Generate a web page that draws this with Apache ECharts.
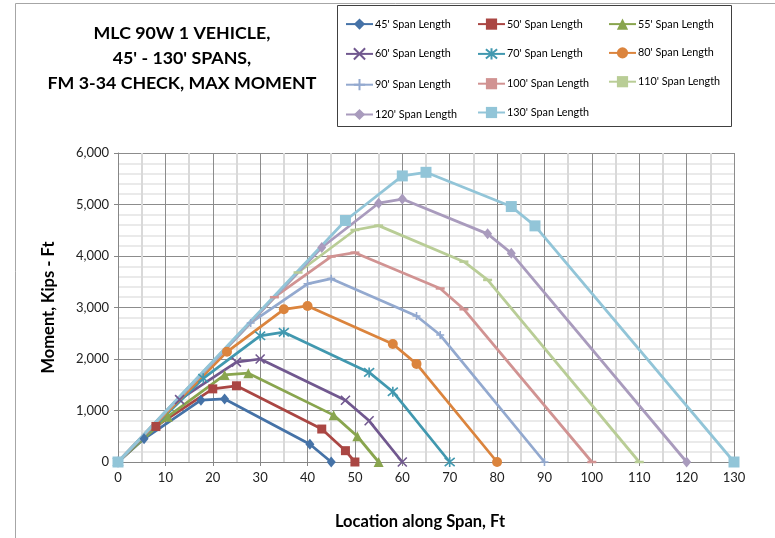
<!DOCTYPE html>
<html>
<head>
<meta charset="utf-8">
<script src="https://cdn.jsdelivr.net/npm/echarts@6/dist/echarts.min.js"></script>
<style>
html,body{margin:0;padding:0;background:#fff;}
#chart{width:775px;height:538px;}
</style>
</head>
<body>
<div id="chart"></div>
<script>
// ---- data ----
const titleLines = ["MLC 90W 1 VEHICLE,", "45' - 130' SPANS,", "FM 3-34 CHECK, MAX MOMENT"];
const xTitle = "Location along Span, Ft";
const yTitle = "Moment, Kips - Ft";

const spanNames = ["45' Span Length","50' Span Length","55' Span Length","60' Span Length","70' Span Length","80' Span Length","90' Span Length","100' Span Length","110' Span Length","120' Span Length","130' Span Length"];

const loc45  = [0, 5.5, 17.5, 22.5, 40.5, 45];
const mom45  = [0, 450, 1200, 1225, 345, 0];
const loc50  = [0, 8, 20, 25, 43, 48, 50];
const mom50  = [0, 690, 1420, 1480, 640, 220, 0];
const loc55  = [0, 10.5, 22.5, 27.5, 45.5, 50.5, 55];
const mom55  = [0, 880, 1690, 1725, 910, 500, 0];
const loc60  = [0, 13, 25, 30, 48, 53, 60];
const mom60  = [0, 1210, 1940, 2000, 1200, 800, 0];
const loc70  = [0, 18, 30, 35, 53, 58, 70];
const mom70  = [0, 1625, 2450, 2520, 1740, 1365, 0];
const loc80  = [0, 23, 35, 40, 58, 63, 80];
const mom80  = [0, 2140, 2965, 3030, 2290, 1905, 0];
const loc90  = [0, 28, 40, 45, 63, 68, 90];
const mom90  = [0, 2700, 3460, 3560, 2835, 2465, 0];
const loc100 = [0, 33, 45, 50, 68, 73, 100];
const mom100 = [0, 3200, 3990, 4065, 3370, 2965, 0];
const loc110 = [0, 38, 50, 55, 73, 78, 110];
const mom110 = [0, 3680, 4505, 4590, 3890, 3535, 0];
const loc120 = [0, 43, 55, 60, 78, 83, 120];
const mom120 = [0, 4165, 5025, 5105, 4430, 4055, 0];
const loc130 = [0, 48, 60, 65, 83, 88, 130];
const mom130 = [0, 4690, 5555, 5625, 4960, 4585, 0];

const locs = [loc45, loc50, loc55, loc60, loc70, loc80, loc90, loc100, loc110, loc120, loc130];
const moms = [mom45, mom50, mom55, mom60, mom70, mom80, mom90, mom100, mom110, mom120, mom130];

const xTicks = {min: 0, max: 130, interval: 10};
const yTicks = {min: 0, max: 6000, interval: 1000};

// ---- styles ----
const colors = ['#4572A7','#AA4643','#89A54E','#71588F','#4198AF','#DB843D','#93A9CF','#D19392','#B9CD96','#A99BBD','#92C5D8'];
const P_X = 'path://M0,0 L10,10 M10,0 L0,10';
const P_STAR = 'path://M0,0 L10,10 M10,0 L0,10 M5,-1 L5,11';
const P_PLUS = 'path://M0,5 L10,5 M5,0 L5,10';
const symbols = [
  {s:'diamond', size:[9,11], stroke:false},
  {s:'rect', size:9, stroke:false},
  {s:'triangle', size:10, stroke:false},
  {s:P_X, size:9, stroke:true},
  {s:P_STAR, size:10, stroke:true},
  {s:'circle', size:10, stroke:false},
  {s:P_PLUS, size:8, stroke:true},
  {s:'rect', size:[9,2.5], stroke:false},
  {s:'rect', size:[9,2.5], stroke:false},
  {s:'diamond', size:[9,11], stroke:false},
  {s:'rect', size:11, stroke:false}
];

const FONT = 'Lato, "Open Sans", sans-serif';

const series = spanNames.map((name, i) => ({
  name: name,
  type: 'line',
  data: locs[i].map((x, k) => [x, moms[i][k]]),
  color: colors[i],
  symbol: symbols[i].s,
  symbolSize: symbols[i].size,
  showAllSymbol: true,
  lineStyle: {width: 2.75, color: colors[i]},
  itemStyle: symbols[i].stroke
    ? {color: colors[i], borderColor: colors[i], borderWidth: 1.6}
    : {color: colors[i], borderWidth: 0},
  emphasis: {disabled: true},
  animation: false,
  clip: false,
  z: 2
}));

function legendCol(left, names) {
  return {
    orient: 'vertical',
    left: left,
    top: 13.5,
    itemWidth: 27,
    itemHeight: 14,
    itemGap: 17.6,
    data: names,
    textStyle: {fontFamily: FONT, fontSize: 10.8, color: '#000', padding: [0,0,0,-3]},
    selectedMode: false
  };
}

const chart = echarts.init(document.getElementById('chart'), null, {renderer: 'canvas'});
chart.setOption({
  animation: false,
  backgroundColor: '#fff',
  grid: {left: 118, right: 41, top: 153, bottom: 76, containLabel: false},
  legend: [
    legendCol(340, [spanNames[0], spanNames[3], spanNames[6], spanNames[9]]),
    legendCol(472, [spanNames[1], spanNames[4], spanNames[7], spanNames[10]]),
    legendCol(603, [spanNames[2], spanNames[5], spanNames[8]])
  ],
  xAxis: {
    type: 'value',
    min: xTicks.min, max: xTicks.max, interval: xTicks.interval,
    name: xTitle,
    nameLocation: 'middle',
    nameGap: 51,
    nameTextStyle: {fontFamily: FONT, fontSize: 16.5, fontWeight: 'bold', color: '#000', padding: [0, 12, 0, 0]},
    axisLine: {show: true, lineStyle: {color: '#868686', width: 1}},
    axisTick: {show: true, length: 4, lineStyle: {color: '#868686'}},
    axisLabel: {fontFamily: FONT, fontSize: 13, color: '#222', margin: 9},
    splitLine: {show: true, lineStyle: {color: '#8c8c8c', width: 1}},
    minorTick: {show: false, splitNumber: 2},
    minorSplitLine: {show: true, lineStyle: {color: '#d9d9d9', width: 2}}
  },
  yAxis: {
    type: 'value',
    min: yTicks.min, max: yTicks.max, interval: yTicks.interval,
    name: yTitle,
    nameLocation: 'middle',
    nameGap: 61,
    nameTextStyle: {fontFamily: FONT, fontSize: 16.5, fontWeight: 'bold', color: '#000'},
    axisLine: {show: true, lineStyle: {color: '#868686', width: 1}},
    axisTick: {show: true, length: 4, lineStyle: {color: '#868686'}},
    axisLabel: {fontFamily: FONT, fontSize: 13, color: '#222', margin: 9,
      formatter: v => v.toLocaleString('en-US')},
    splitLine: {show: true, lineStyle: {color: '#8c8c8c', width: 1}},
    minorTick: {show: false, splitNumber: 5},
    minorSplitLine: {show: true, lineStyle: {color: '#e3e3e3', width: 1.5}}
  },
  graphic: [
    {type: 'rect', shape: {x: 15.5, y: 3.5, width: 800, height: 600}, style: {fill: 'none', stroke: '#a6a6a6', lineWidth: 1}, z: -10, silent: true},
    {type: 'rect', shape: {x: 337.5, y: 5.5, width: 394, height: 121}, style: {fill: '#fff', stroke: '#404040', lineWidth: 1}, z: -5, silent: true},
    {type: 'text', x: 182, y: 33.5, style: {text: titleLines[0], font: 'bold 17.8px ' + FONT, fill: '#000', textAlign: 'center', textVerticalAlign: 'middle'}, silent: true},
    {type: 'text', x: 182, y: 58.5, style: {text: titleLines[1], font: 'bold 17.8px ' + FONT, fill: '#000', textAlign: 'center', textVerticalAlign: 'middle'}, silent: true},
    {type: 'text', x: 182, y: 83.5, style: {text: titleLines[2], font: 'bold 17.8px ' + FONT, fill: '#000', textAlign: 'center', textVerticalAlign: 'middle'}, silent: true}
  ],
  series: series
});
</script>
</body>
</html>
